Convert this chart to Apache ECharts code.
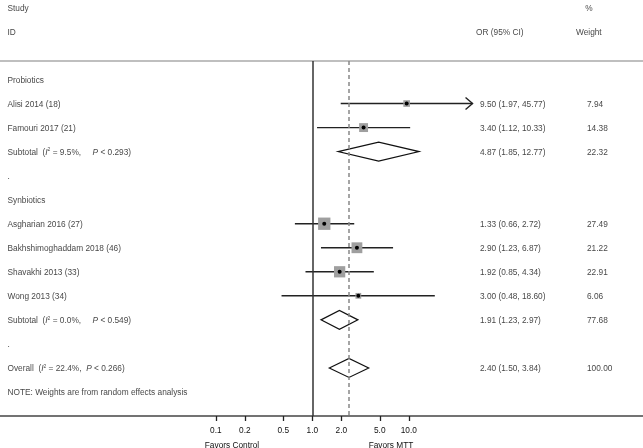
<!DOCTYPE html>
<html>
<head>
<meta charset="utf-8">
<script src="https://cdn.jsdelivr.net/npm/echarts@6/dist/echarts.min.js"></script>
<style>html,body{margin:0;padding:0;background:#fff}#c{width:643px;height:448px}</style>
</head>
<body>
<div id="c"></div>
<script>
// ---- data ----
var studies = ['Alisi 2014 (18)', 'Famouri 2017 (21)', 'Asgharian 2016 (27)', 'Bakhshimoghaddam 2018 (46)', 'Shavakhi 2013 (33)', 'Wong 2013 (34)'];
var studyRows = [1, 2, 6, 7, 8, 9];
var studyOR = [9.50, 3.40, 1.33, 2.90, 1.92, 3.00];
var studyLo = [1.97, 1.12, 0.66, 1.23, 0.85, 0.48];
var studyHi = [45.77, 10.33, 2.72, 6.87, 4.34, 18.60];
var studyWeight = [7.94, 14.38, 27.49, 21.22, 22.91, 6.06];
var studyTruncated = [true, false, false, false, false, false];

var pooledLabels = ['Subtotal', 'Subtotal', 'Overall'];
var pooledRows = [3, 10, 12];
var pooledOR = [4.87, 1.91, 2.40];
var pooledLo = [1.85, 1.23, 1.50];
var pooledHi = [12.77, 2.97, 3.84];
var pooledWeight = [22.32, 77.68, 100.00];
var pooledI2 = ['9.5%', '0.0%', '22.4%'];
var pooledP = ['0.293', '0.549', '0.266'];

var groupLabels = ['Probiotics', '.', 'Synbiotics', '.', 'NOTE: Weights are from random effects analysis'];
var groupRows = [0, 4, 5, 11, 13];

var tickValues = [0.1, 0.2, 0.5, 1, 2, 5, 10];
var nullValue = 1;
var overallValue = 2.40;

// ---- layout constants ----
var COL_STUDY = 7.5, COL_OR = 480, COL_W = 587;
var FONT = 'Liberation Sans, Arial, Helvetica, sans-serif';
var FS = 8.3;
var TXT = '#111';
var PX0 = 312.3, DEC = 96.5;  // pixel of 1.0 and pixels per decade
var xMin = Math.pow(10, (0 - PX0) / DEC), xMax = Math.pow(10, (643 - PX0) / DEC);

function f2(v){ return v.toFixed(2); }

// text rows
var textData = [];
textData.push({value:[COL_STUDY, -3], label:{formatter:'Study'}});
textData.push({value:[COL_STUDY, -2], label:{formatter:'ID'}});
textData.push({value:[476, -2], label:{formatter:'OR (95% CI)'}});
textData.push({value:[589, -3], label:{formatter:'%', align:'center', position:'inside'}});
textData.push({value:[576, -2], label:{formatter:'Weight'}});
groupLabels.forEach(function(t,i){ textData.push({value:[COL_STUDY, groupRows[i]], label:{formatter:t}}); });
studies.forEach(function(t,i){
  textData.push({value:[COL_STUDY, studyRows[i]], label:{formatter:t}});
  textData.push({value:[COL_OR, studyRows[i]], label:{formatter:f2(studyOR[i])+' ('+f2(studyLo[i])+', '+f2(studyHi[i])+')'}});
  textData.push({value:[COL_W, studyRows[i]], label:{formatter:f2(studyWeight[i])}});
});
pooledLabels.forEach(function(t,i){
  var gap = i === 2 ? '  ' : '     ';
  textData.push({value:[COL_STUDY, pooledRows[i]], label:{formatter:t+'  ({i|I}{s|2} = '+pooledI2[i]+','+gap+'{i|P} < '+pooledP[i]+')'}});
  textData.push({value:[COL_OR, pooledRows[i]], label:{formatter:f2(pooledOR[i])+' ('+f2(pooledLo[i])+', '+f2(pooledHi[i])+')'}});
  textData.push({value:[COL_W, pooledRows[i]], label:{formatter:f2(pooledWeight[i])}});
});

var studyData = studies.map(function(s,i){ return [studyOR[i], studyLo[i], studyHi[i], studyRows[i], studyWeight[i], studyTruncated[i]?1:0]; });
var pooledData = pooledLabels.map(function(s,i){ return [pooledOR[i], pooledLo[i], pooledHi[i], pooledRows[i]]; });

var chart = echarts.init(document.getElementById('c'), null, {renderer:'canvas'});
chart.setOption({
  animation: false,
  backgroundColor: '#fff',
  textStyle: {fontFamily: FONT},
  grid: {left: 0, right: 0, top: 61, bottom: 32},
  xAxis: [{
    type: 'log', min: xMin, max: xMax, logBase: 10,
    position: 'bottom',
    axisLine: {show: true, onZero: false, lineStyle: {color: '#444', width: 1.5}},
    axisTick: {show: true, customValues: tickValues, length: 5, lineStyle: {color: '#222', width: 1.3}},
    axisLabel: {show: true, customValues: tickValues, margin: 11, fontSize: FS, color: TXT, fontFamily: FONT,
      formatter: function(v){ return (+v).toFixed(1); }},
    splitLine: {show: false}, minorTick: {show: false}
  }, {
    type: 'value', min: 0, max: 643, position: 'top',
    axisLine: {show: true, onZero: false, lineStyle: {color: '#aaa', width: 1.5}},
    axisTick: {show: false}, axisLabel: {show: false}, splitLine: {show: false}
  }],
  yAxis: {type: 'value', inverse: true, min: -0.77, max: 14, show: false},
  graphic: [
    {type:'text', x: 232, y: 445.5, style:{text:'Favors Control', fill: TXT, font: FS + 'px ' + FONT, align:'center', verticalAlign:'middle'}},
    {type:'text', x: 391, y: 445.5, style:{text:'Favors MTT', fill: TXT, font: FS + 'px ' + FONT, align:'center', verticalAlign:'middle'}}
  ],
  series: [{
    type: 'custom', xAxisIndex: 0, yAxisIndex: 0, clip: false,
    encode: {x: [0,1,2], y: 3},
    data: studyData,
    markLine: {
      silent: true, symbol: 'none', label: {show: false},
      data: [
        {xAxis: nullValue, lineStyle: {color: '#333', width: 1.5, type: 'solid'}},
        {xAxis: overallValue, lineStyle: {color: '#888', width: 1.5, type: [4, 3]}}
      ]
    },
    renderItem: function(params, api){
      var est = api.value(0), l = api.value(1), h = api.value(2), r = api.value(3), w = api.value(4), arrow = api.value(5);
      var c = api.coord([est, r]), a = api.coord([l, r]), b = api.coord([h, r]);
      var s = 2.35 * Math.sqrt(w);
      var ch = [
        {type:'line', shape:{x1:a[0], y1:a[1], x2:b[0], y2:b[1]}, style:{stroke:'#222', lineWidth:1.4}},
        {type:'rect', shape:{x:c[0]-s/2, y:c[1]-s/2, width:s, height:s}, style:{fill:'#9f9f9f'}},
        {type:'circle', shape:{cx:c[0], cy:c[1], r:2}, style:{fill:'#000'}}
      ];
      if (arrow) ch.push({type:'polyline', shape:{points:[[b[0]-7, b[1]-6],[b[0], b[1]],[b[0]-7, b[1]+6]]}, style:{stroke:'#222', lineWidth:1.4, fill:null}});
      return {type:'group', children: ch};
    }
  }, {
    type: 'custom', xAxisIndex: 0, yAxisIndex: 0, clip: false,
    encode: {x: [0,1,2], y: 3},
    data: pooledData,
    renderItem: function(params, api){
      var est = api.value(0), l = api.value(1), h = api.value(2), r = api.value(3);
      var c = api.coord([est, r]), a = api.coord([l, r]), b = api.coord([h, r]);
      var hh = 9.5;
      return {type:'polygon', shape:{points:[[a[0], a[1]], [c[0], c[1]-hh], [b[0], b[1]], [c[0], c[1]+hh]]},
        style:{fill:'none', stroke:'#111', lineWidth:1.2}};
    }
  }, {
    type: 'scatter', xAxisIndex: 1, yAxisIndex: 0, clip: false, symbolSize: 0, silent: true,
    data: textData,
    label: {show: true, position: 'right', distance: 0, align: 'left', verticalAlign: 'middle', offset: [0, 1],
      fontSize: FS, color: TXT, fontFamily: FONT,
      rich: {
        i: {fontSize: FS, fontStyle: 'italic', color: TXT, fontFamily: FONT},
        s: {fontSize: 5, color: TXT, fontFamily: FONT, verticalAlign: 'top', lineHeight: 10, padding: [0,0,4,0]}
      }}
  }]
});
</script>
</body>
</html>
